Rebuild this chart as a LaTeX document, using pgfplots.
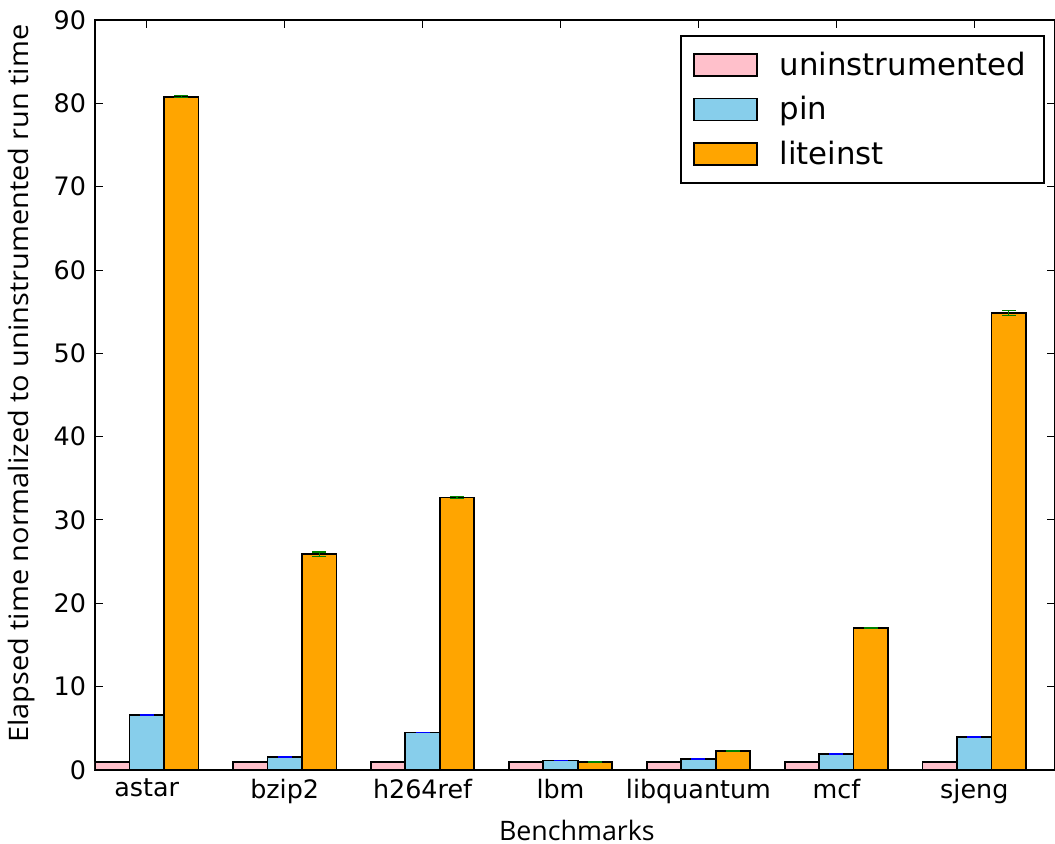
\documentclass[border=0pt]{standalone}
\usepackage{fontspec}
\setmainfont{DejaVu Sans}
\newfontfamily\labelfont{Open Sans}
\usepackage{pgfplots}
\pgfplotsset{compat=1.18}
\usepackage{pgfplotstable}
\definecolor{cpink}{RGB}{255,192,203}
\definecolor{cblue}{RGB}{135,206,235}
\definecolor{corange}{RGB}{255,165,0}
\definecolor{cgreen}{RGB}{0,128,0}
\definecolor{cerrblue}{RGB}{0,0,255}

\pgfplotstableread{
idx un uerr pin perr lite lerr
0 1.0 0.02 6.6 0.05 80.8 0.12
1 1.0 0.02 1.55 0.04 25.9 0.25
2 1.0 0.02 4.5 0.04 32.7 0.10
3 1.0 0.02 1.15 0.02 0.95 0.02
4 1.0 0.02 1.35 0.02 2.25 0.03
5 1.0 0.02 1.9 0.03 17.05 0.05
6 1.0 0.02 4.0 0.03 54.8 0.30
}\data

\pgfplotsset{
  mybar/.style={ybar, bar width=0.25, draw=black, line width=0.85pt, fill=#1,
    legend image code/.code={\draw[fill=#1, draw=black, line width=0.85pt] (0pt,-5.5pt) rectangle (31.5pt,5.5pt);}},
}

\begin{document}
\begin{tikzpicture}
\useasboundingbox (-47.5pt,-37pt) rectangle (480pt,385pt);
\begin{axis}[
  at={(0,0)}, anchor=south west,
  scale only axis, width=480pt, height=375pt,
  xmin=0, xmax=6.96, ymin=0, ymax=90,
  xtick={0.375,1.375,2.375,3.375,4.375,5.375,6.375},
  xticklabels={astar,bzip2,h264ref,lbm,libquantum,mcf,sjeng},
  ytick={0,10,...,90},
  xtick pos=both, ytick pos=both, tick align=inside,
  major tick length=4pt,
  tick style={black, line width=0.5pt},
  axis line style={black, line width=0.8pt},
  tick label style={font=\fontsize{12.7}{15}\selectfont},
  /pgf/number format/assume math mode=true,
  xticklabel style={yshift=-1pt},
  yticklabel style={xshift=-1pt},
  xlabel={Benchmarks},
  ylabel={Elapsed time normalized to uninstrumented run time},
  every axis x label/.style={at={(axis description cs:0.502,-0.08)}, anchor=center,
    font=\labelfont\fontsize{13.4}{16}\selectfont},
  every axis y label/.style={at={(axis description cs:-0.076,0.515)}, rotate=90, xscale=1.08, anchor=center,
    font=\labelfont\fontsize{13.4}{16}\selectfont},
  legend style={at={(0.9895,0.98)}, anchor=north east, draw=black, line width=0.8pt,
    font=\fontsize{15.4}{18}\selectfont, inner xsep=6pt, inner ysep=5pt,
    row sep=3pt, nodes={inner sep=3pt}},
  legend cell align=left,
  /tikz/every odd column/.append style={column sep=8pt},
]
\addplot[mybar=cpink, error bars/.cd, y dir=both, y explicit, error mark=|,
  error bar style={black, line width=0.6pt},
  error mark options={black, mark size=3.5pt, line width=0.6pt}]
  table[x expr=\thisrow{idx}+0.125, y=un, y error=uerr] {\data};
\addlegendentry{uninstrumented}
\addplot[mybar=cblue, error bars/.cd, y dir=both, y explicit, error mark=|,
  error bar style={cerrblue, line width=0.6pt},
  error mark options={cerrblue, mark size=3.5pt, line width=0.6pt}]
  table[x expr=\thisrow{idx}+0.375, y=pin, y error=perr] {\data};
\addlegendentry{pin}
\addplot[mybar=corange, error bars/.cd, y dir=both, y explicit, error mark=|,
  error bar style={cgreen, line width=0.6pt},
  error mark options={cgreen, mark size=3.5pt, line width=0.6pt}]
  table[x expr=\thisrow{idx}+0.625, y=lite, y error=lerr] {\data};
\addlegendentry{liteinst}
\end{axis}
\end{tikzpicture}
\end{document}
